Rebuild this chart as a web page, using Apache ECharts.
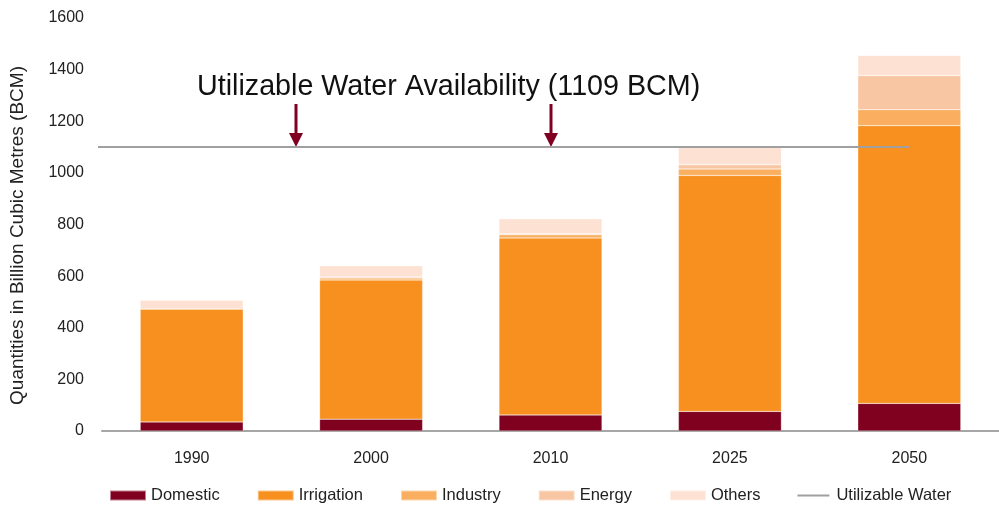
<!DOCTYPE html>
<html>
<head>
<meta charset="utf-8">
<script src="https://cdn.jsdelivr.net/npm/echarts@6/dist/echarts.min.js"></script>
<style>
  html, body { margin: 0; padding: 0; background: #fff; }
  #chart { width: 999px; height: 506px; }
</style>
</head>
<body>
<div id="chart"></div>
<script>
// categories and stacked values (BCM)
const years = ['1990', '2000', '2010', '2025', '2050']
const domestic = [35, 46, 62, 76, 107]
const irrigation = [438, 539, 686, 914, 1076]
const industry = [0, 8, 12, 25, 62]
const energy = [0, 4, 4, 16, 132]
const others = [34, 43, 58, 67, 78]
const utilizable = 1100
const yTicks = [0, 200, 400, 600, 800, 1000, 1200, 1400, 1600]

const font = 'Liberation Sans, Arial, Helvetica, sans-serif'
const textColor = '#222'

const chart = echarts.init(document.getElementById('chart'))

const barSeries = (name, data, color) => ({
  name,
  type: 'bar',
  stack: 'total',
  data,
  barWidth: 103,
  itemStyle: { color, borderColor: 'rgba(255,255,255,0.5)', borderWidth: 0.5 },
  emphasis: { disabled: true }
})

// arrow under the annotation text
const arrow = (x) => ({
  type: 'group',
  children: [
    { type: 'rect', shape: { x: x - 1.5, y: 104, width: 3, height: 30 }, style: { fill: '#7F0020' } },
    { type: 'polygon', shape: { points: [[x - 7, 133], [x + 7, 133], [x, 147]] }, style: { fill: '#7F0020' } }
  ]
})

// thin horizontal line as a legend icon (tiny corner marks keep the box 36x10)
const lineIcon = 'path://M0,0h0.01v0.01h-0.01z M0,4h32v2h-32z M0,10h0.01v0.01h-0.01z'

const option = {
  animation: false,
  textStyle: { fontFamily: font },
  grid: { left: 102, right: 0, top: 18, bottom: 75 },
  xAxis: {
    type: 'category',
    data: years,
    axisLine: { lineStyle: { color: '#A6A6A6', width: 2 } },
    axisTick: { show: false },
    axisLabel: { color: textColor, fontSize: 16, margin: 20, fontFamily: font }
  },
  yAxis: {
    type: 'value',
    min: yTicks[0],
    max: yTicks[yTicks.length - 1],
    interval: 200,
    name: 'Quantities in Billion Cubic Metres (BCM)',
    nameLocation: 'middle',
    nameGap: 75,
    nameTextStyle: { color: textColor, fontSize: 19, fontFamily: font, padding: [0, 22, 0, 0] },
    axisLine: { show: false },
    axisTick: { show: false },
    splitLine: { show: false },
    axisLabel: {
      color: textColor, fontSize: 16, margin: 18, fontFamily: font,
      formatter: (v) => String(v)
    }
  },
  legend: {
    left: 104,
    top: 482,
    itemWidth: 36,
    itemHeight: 10,
    itemGap: 37,
    textStyle: { color: textColor, fontSize: 16.5, fontFamily: font },
    data: [
      { name: 'Domestic', icon: 'rect' },
      { name: 'Irrigation', icon: 'rect' },
      { name: 'Industry', icon: 'rect' },
      { name: 'Energy', icon: 'rect' },
      { name: 'Others', icon: 'rect' },
      { name: 'Utilizable Water', icon: lineIcon }
    ]
  },
  series: [
    barSeries('Domestic', domestic, '#80001F'),
    barSeries('Irrigation', irrigation, '#F7901E'),
    barSeries('Industry', industry, '#F9AF5F'),
    barSeries('Energy', energy, '#F9C6A3'),
    barSeries('Others', others, '#FDE1D3'),
    {
      name: 'Utilizable Water',
      type: 'line',
      data: years.map(() => null),
      symbol: 'none',
      lineStyle: { color: '#A0A0A0', width: 2 },
      itemStyle: { color: '#A0A0A0' },
      markLine: {
        silent: true,
        symbol: ['none', 'none'],
        label: { show: false },
        lineStyle: { color: '#A0A0A0', width: 2, type: 'solid' },
        data: [[{ x: 98, yAxis: utilizable }, { xAxis: '2050', yAxis: utilizable }]]
      }
    }
  ],
  graphic: [
    {
      type: 'text',
      left: 197,
      top: 73,
      style: {
        text: 'Utilizable Water Availability (1109 BCM)',
        fontSize: 28.7,
        fontFamily: font,
        fill: '#111'
      }
    },
    arrow(296),
    arrow(551)
  ]
}

chart.setOption(option)
</script>
</body>
</html>
